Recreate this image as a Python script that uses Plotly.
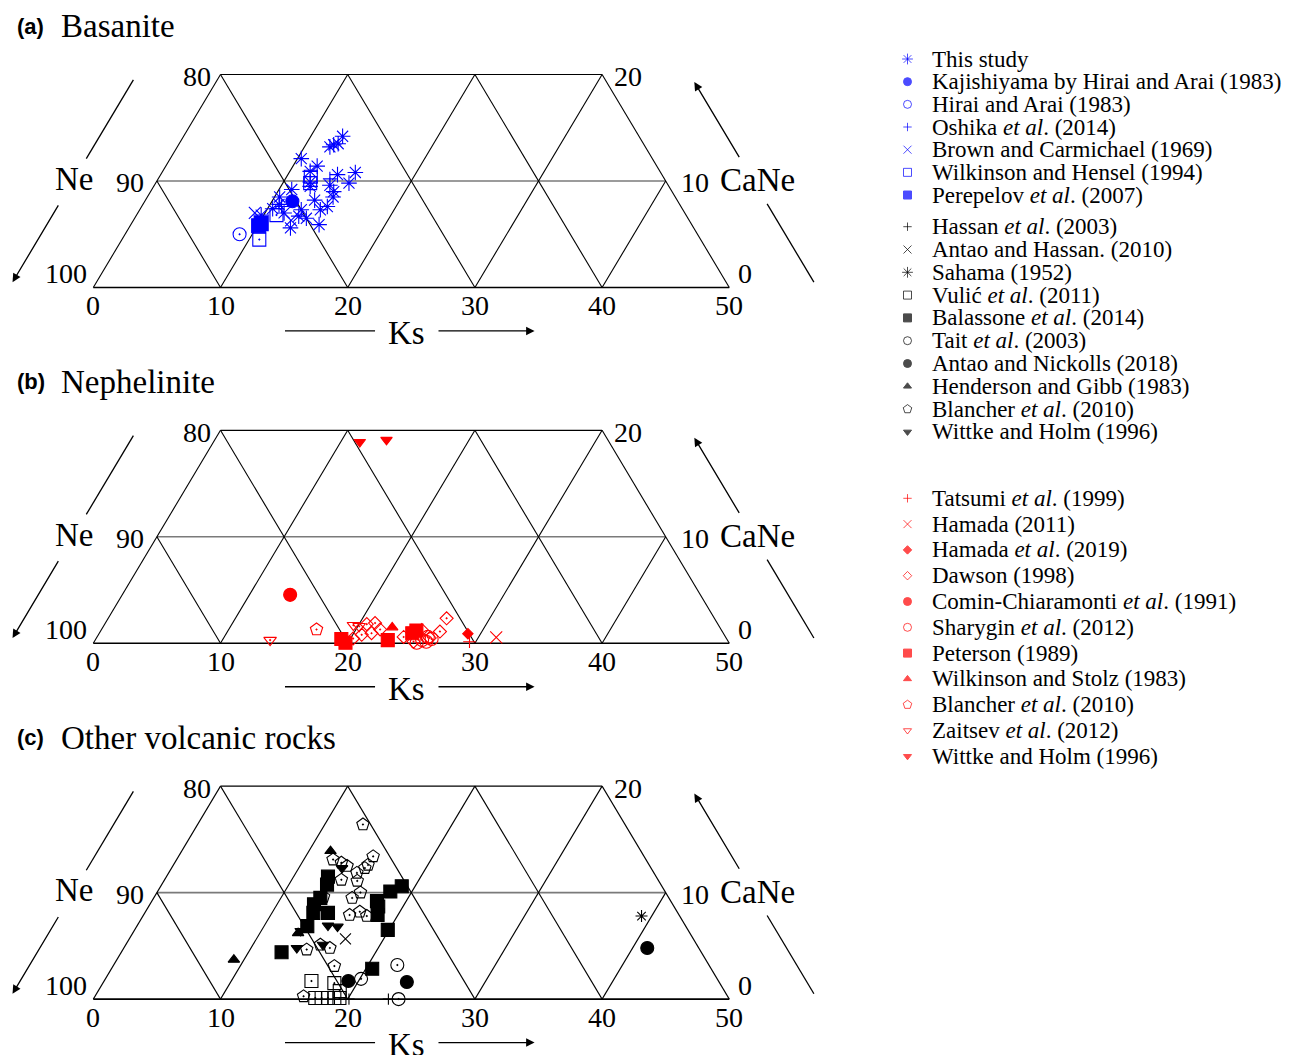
import plotly.graph_objects as go

W, H = 1291, 1055
BLUE, RED, BLACK = "#0000ff", "#ff0000", "#000000"
SERIF = "Liberation Serif"
SANS = "Liberation Sans"

# ---------------- data: ternary coordinates (Ks, CaNe) ----------------
# (a) Basanite
a_this_study_ks = [12.5, 12.2, 12.0, 12.5, 10.3, 11.9, 11.6, 13.9, 15.2, 15.2, 12.1, 12.3, 13.8, 14.4, 11.0,
                   10.4, 13.3, 14.6, 14.2, 12.7, 12.8, 13.5, 14.8, 12.7, 10.4, 10.7, 9.8, 11.5, 14.6]
a_this_study_cane = [14.2, 13.4, 13.2, 13.5, 12.1, 11.4, 10.9, 10.6, 10.8, 9.8, 9.9, 9.5, 9.6, 9.0, 9.2,
                     8.5, 8.2, 7.6, 7.3, 7.3, 6.7, 6.5, 5.9, 5.6, 7.4, 7.8, 6.8, 7.0, 8.5]
a_kajishiyama_ks, a_kajishiyama_cane = [11.6], [8.1]
a_hirai_ks, a_hirai_cane = [9.0], [5.0]
a_oshika_ks, a_oshika_cane = [11.0, 13.5], [7.6, 10.2]
a_brown_ks, a_brown_cane = [9.2, 12.4], [7.0, 6.3]
a_wilkinson_ks, a_wilkinson_cane = [10.8, 11.0, 11.9, 12.15], [4.5, 6.8, 10.4, 9.8]
a_perepelov_ks, a_perepelov_cane = [10.1, 10.2], [5.8, 6.0]

# (b) Nephelinite
b_tatsumi_ks, b_tatsumi_cane = [29.5], [0.15]
b_hamada2011_ks, b_hamada2011_cane = [31.4], [0.55]
b_hamada2019_ks, b_hamada2019_cane = [29.0], [0.9]
b_dawson_ks = [20.6, 21.2, 21.4, 20.7, 25.2, 26.7, 26.6, 24.1, 25.1, 20.2, 21.9, 26.2]
b_dawson_cane = [1.8, 1.9, 0.95, 0.8, 1.25, 1.1, 2.35, 0.6, 0.15, 0.45, 1.3, 0.5]
b_comin_ks, b_comin_cane = [13.2], [4.55]
b_sharygin_ks, b_sharygin_cane = [25.7, 26.1, 26.4, 25.4, 26.0], [0.3, 0.15, 0.4, 0.05, 0.6]
b_peterson_ks, b_peterson_cane = [19.3, 19.8, 23.0, 24.6, 24.8], [0.4, 0.05, 0.3, 0.95, 1.2]
b_wilkstolz_ks, b_wilkstolz_cane = [22.75], [1.5]
b_blancher_ks, b_blancher_cane = [16.9], [1.3]
b_zaitsev_ks, b_zaitsev_cane = [13.75, 19.6, 20.1], [0.3, 1.7, 1.6]
b_wittke_ks, b_wittke_cane = [11.5, 13.5], [18.9, 19.1]

# (c) Other volcanic rocks
c_hassan_ks, c_hassan_cane = [23.2, 20.1], [0.0, 0.0]
c_antaohassan_ks, c_antaohassan_cane = [17.0], [5.65]
c_sahama_ks, c_sahama_cane = [39.2], [7.8]
c_vulic_ks = [16.3, 18.2, 19.0, 17.4, 17.9, 18.4, 18.9, 19.3]
c_vulic_cane = [1.7, 1.5, 0.75, 0.1, 0.1, 0.1, 0.1, 0.1]
c_balassone_ks = [12.7, 13.0, 13.1, 12.9, 18.3, 18.95, 17.7, 13.25, 14.4, 18.05, 18.4, 13.4, 19.9, 12.6, 20.5]
c_balassone_cane = [11.5, 10.75, 9.5, 8.9, 10.1, 10.6, 9.2, 8.1, 8.1, 8.7, 7.9, 6.85, 6.5, 4.4, 2.85]
c_tait_ks, c_tait_cane = [20.1, 22.3, 24.0], [1.9, 3.2, 0.0]
c_antaonick_ks, c_antaonick_cane = [19.2, 23.85, 41.15], [1.7, 1.6, 4.8]
c_henderson_ks, c_henderson_cane = [9.2, 11.7, 13.0], [3.7, 13.9, 6.2]
c_blancher_ks = [13.0, 12.3, 13.1, 13.7, 15.3, 15.3, 15.2, 14.8, 13.9, 15.2, 13.3, 15.6, 16.0,
                 14.45, 15.3, 16.2, 17.4, 16.4, 16.2, 16.85, 17.6]
c_blancher_cane = [16.4, 13.1, 12.8, 12.5, 13.4, 12.6, 12.3, 11.85, 11.2, 11.1, 9.6, 9.5, 10.0,
                   4.65, 5.1, 4.8, 3.1, 0.26, 7.9, 8.2, 7.8]
c_wittke_ks, c_wittke_cane = [13.4, 13.1, 15.0, 15.8, 13.6, 15.5], [12.3, 6.4, 6.9, 6.8, 4.8, 5.1]

# ---------------- axis ticks ----------------
ks_ticks = [0, 10, 20, 30, 40, 50]
ne_ticks = ["80", "90", "100"]
ne_tick_cane = [20, 10, 0]
cane_ticks = ["20", "10", "0"]

panel_titles = [("(a)", "Basanite"), ("(b)", "Nephelinite"), ("(c)", "Other volcanic rocks")]

# series: (panel index, symbol, color, size, ks, cane)
series = [
    (0, "asterisk-open", BLUE, 13, a_this_study_ks, a_this_study_cane),
    (0, "circle", BLUE, 13, a_kajishiyama_ks, a_kajishiyama_cane),
    (0, "circle-open-dot", BLUE, 13, a_hirai_ks, a_hirai_cane),
    (0, "cross-thin-open", BLUE, 10, a_oshika_ks, a_oshika_cane),
    (0, "x-thin-open", BLUE, 12, a_brown_ks, a_brown_cane),
    (0, "square-open-dot", BLUE, 13, a_wilkinson_ks, a_wilkinson_cane),
    (0, "square", BLUE, 14, a_perepelov_ks, a_perepelov_cane),
    (1, "cross-thin-open", RED, 9, b_tatsumi_ks, b_tatsumi_cane),
    (1, "x-thin-open", RED, 12, b_hamada2011_ks, b_hamada2011_cane),
    (1, "diamond", RED, 8, b_hamada2019_ks, b_hamada2019_cane),
    (1, "diamond-open-dot", RED, 10, b_dawson_ks, b_dawson_cane),
    (1, "circle", RED, 13, b_comin_ks, b_comin_cane),
    (1, "circle-open-dot", RED, 13, b_sharygin_ks, b_sharygin_cane),
    (1, "square", RED, 13, b_peterson_ks, b_peterson_cane),
    (1, "triangle-up", RED, 10, b_wilkstolz_ks, b_wilkstolz_cane),
    (1, "pentagon-open-dot", RED, 13, b_blancher_ks, b_blancher_cane),
    (1, "triangle-down-open-dot", RED, 11, b_zaitsev_ks, b_zaitsev_cane),
    (1, "triangle-down", RED, 10, b_wittke_ks, b_wittke_cane),
    (2, "pentagon-open-dot", BLACK, 13, c_blancher_ks, c_blancher_cane),
    (2, "cross-thin-open", BLACK, 8, c_hassan_ks, c_hassan_cane),
    (2, "x-thin-open", BLACK, 11, c_antaohassan_ks, c_antaohassan_cane),
    (2, "asterisk-open", BLACK, 10, c_sahama_ks, c_sahama_cane),
    (2, "square-open-dot", BLACK, 13, c_vulic_ks, c_vulic_cane),
    (2, "square", BLACK, 13, c_balassone_ks, c_balassone_cane),
    (2, "circle-open-dot", BLACK, 13, c_tait_ks, c_tait_cane),
    (2, "circle", BLACK, 13, c_antaonick_ks, c_antaonick_cane),
    (2, "triangle-up", BLACK, 10, c_henderson_ks, c_henderson_cane),
    (2, "triangle-down", BLACK, 10, c_wittke_ks, c_wittke_cane),
]

# legend entries
legend_groups = [
    (BLUE, ["This study", "Kajishiyama by Hirai and Arai (1983)", "Hirai and Arai (1983)",
            "Oshika <i>et al</i>. (2014)", "Brown and Carmichael (1969)", "Wilkinson and Hensel (1994)",
            "Perepelov <i>et al</i>. (2007)"],
     ["asterisk-open", "circle", "circle-open", "cross-thin-open", "x-thin-open", "square-open", "square"]),
    (BLACK, ["Hassan <i>et al</i>. (2003)", "Antao and Hassan. (2010)", "Sahama (1952)",
             "Vulić <i>et al</i>. (2011)", "Balassone <i>et al</i>. (2014)", "Tait <i>et al</i>. (2003)",
             "Antao and Nickolls (2018)", "Henderson and Gibb (1983)", "Blancher <i>et al</i>. (2010)",
             "Wittke and Holm (1996)"],
     ["cross-thin-open", "x-thin-open", "asterisk-open", "square-open", "square", "circle-open", "circle",
      "triangle-up", "pentagon-open", "triangle-down"]),
    (RED, ["Tatsumi <i>et al</i>. (1999)", "Hamada (2011)", "Hamada <i>et al</i>. (2019)", "Dawson (1998)",
           "Comin-Chiaramonti <i>et al</i>. (1991)", "Sharygin <i>et al</i>. (2012)", "Peterson (1989)",
           "Wilkinson and Stolz (1983)", "Blancher <i>et al</i>. (2010)", "Zaitsev <i>et al</i>. (2012)",
           "Wittke and Holm (1996)"],
     ["cross-thin-open", "x-thin-open", "diamond", "diamond-open", "circle", "circle-open", "square",
      "triangle-up", "pentagon-open", "triangle-down-open", "triangle-down"]),
]
legend_sizes = {"asterisk-open": 9, "circle": 8, "circle-open": 8, "cross-thin-open": 6, "x-thin-open": 8,
                "square-open": 8, "square": 8, "triangle-up": 7, "triangle-down": 7, "triangle-down-open": 7,
                "pentagon-open": 9, "diamond": 6.5, "diamond-open": 6.5}

# ---------------- layout geometry (pixels) ----------------
PX0 = 93.3        # pixel x of Ks = 0
SX = 12.72        # px per unit, horizontal
SY = 10.65        # px per unit, vertical (CaNe)
PANEL_STEP = 355.8
BOTTOM0 = 287.5
XR = [-7, 58]
YR = [-5, 21.5]
LEG_START = [59.0, 226.7, 498.3]
LEG_STEP = [22.67, 22.8, 25.8]
LEG_MARK_X = 907.5
LEG_TEXT_X = 929.5


def txy(ks, cane):
    return [k + c / 2 for k, c in zip(ks, cane)], list(cane)


fig = go.Figure()
layout = dict(width=W, height=H, margin=dict(l=0, r=0, t=0, b=0, pad=0),
              paper_bgcolor="white", plot_bgcolor="rgba(0,0,0,0)", showlegend=False)
shapes, annotations = [], []

for p in range(3):
    sfx = "" if p == 0 else str(p + 1)
    bottom = BOTTOM0 + p * PANEL_STEP
    x_dom = [(PX0 + XR[0] * SX) / W, (PX0 + XR[1] * SX) / W]
    y_top_px = bottom - YR[1] * SY
    y_bot_px = bottom - YR[0] * SY
    y_dom = [1 - y_bot_px / H, 1 - y_top_px / H]
    layout["xaxis" + sfx] = dict(domain=x_dom, range=XR, visible=False, fixedrange=True, anchor="y" + sfx)
    layout["yaxis" + sfx] = dict(domain=y_dom, range=YR, visible=False, fixedrange=True, anchor="x" + sfx)
    xr, yr = "x" + sfx, "y" + sfx

    def seg(k1, c1, k2, c2, color="black", width=1.0):
        shapes.append(dict(type="line", xref=xr, yref=yr, x0=k1 + c1 / 2, y0=c1, x1=k2 + c2 / 2, y1=c2,
                           line=dict(color=color, width=width), layer="below"))

    # horizontal lines (CaNe = 0, 10, 20)
    seg(0, 0, 50, 0, "black", 1.6)
    seg(0, 10, 40, 10, "#7a7a7a", 1.6)
    seg(0, 20, 30, 20, "black", 1.2)
    # constant-Ks lines
    for k in [0, 10, 20, 30, 40]:
        seg(k, 0, k, min(20, 50 - k), "black", 1.1)
    # constant Ks+CaNe lines
    for s in [10, 20, 30, 40, 50]:
        cm = min(20, s)
        seg(s, 0, s - cm, cm, "black", 1.1)

    # bottom tick labels
    for k in ks_ticks:
        annotations.append(dict(xref=xr, yref=yr, x=k, y=0, text=str(k), showarrow=False,
                                yshift=-18, xanchor="center", yanchor="middle",
                                font=dict(family=SERIF, size=28, color="black")))
    # left (Ne) labels
    ne_shift = [(-8, -2), (-11, -2), (-4, 14)]
    for lab, c, (dx, dy) in zip(ne_ticks, ne_tick_cane, ne_shift):
        annotations.append(dict(xref=xr, yref=yr, x=c / 2, y=c, text=lab, showarrow=False,
                                xshift=dx, yshift=dy, xanchor="right", yanchor="middle",
                                font=dict(family=SERIF, size=28, color="black")))
    # right (CaNe) labels
    ca_shift = [(10, -2), (13, -2), (7, 14)]
    for lab, c, (dx, dy) in zip(cane_ticks, ne_tick_cane, ca_shift):
        annotations.append(dict(xref=xr, yref=yr, x=50 - c / 2, y=c, text=lab, showarrow=False,
                                xshift=dx, yshift=dy, xanchor="left", yanchor="middle",
                                font=dict(family=SERIF, size=28, color="black")))
    # Ne axis name + arrow
    kN = -6.6
    seg(kN, 12.1, kN, 19.5, "black", 1.3)
    annotations.append(dict(xref=xr, yref=yr, x=kN + 0.25, y=0.5, ax=kN + 3.92, ay=7.85,
                            axref=xr, ayref=yr, text="", showarrow=True, arrowhead=2, arrowsize=1.3,
                            arrowwidth=1.3, arrowcolor="black"))
    annotations.append(dict(xref=xr, yref=yr, x=kN + 5.1, y=10.2, text="Ne", showarrow=False,
                            xanchor="center", yanchor="middle",
                            font=dict(family=SERIF, size=33, color="black")))
    # CaNe axis name + arrow
    sC = 56.9
    seg(sC - 0.5, 0.5, sC - 7.85, 7.85, "black", 1.3)
    annotations.append(dict(xref=xr, yref=yr, x=sC - 9.65, y=19.3, ax=sC - 6.05, ay=12.1,
                            axref=xr, ayref=yr, text="", showarrow=True, arrowhead=2, arrowsize=1.3,
                            arrowwidth=1.3, arrowcolor="black"))
    annotations.append(dict(xref=xr, yref=yr, x=57.3 - 5.05, y=10.1, text="CaNe", showarrow=False,
                            xanchor="center", yanchor="middle",
                            font=dict(family=SERIF, size=33, color="black")))
    # Ks axis name + arrow
    shapes.append(dict(type="line", xref=xr, yref=yr, x0=15.07, y0=-4.08, x1=22.15, y1=-4.08,
                       line=dict(color="black", width=1.3)))
    annotations.append(dict(xref=xr, yref=yr, x=34.69, y=-4.08, ax=27.02, ay=-4.08,
                            axref=xr, ayref=yr, text="", showarrow=True, arrowhead=2, arrowsize=1.3,
                            arrowwidth=1.3, arrowcolor="black"))
    annotations.append(dict(xref=xr, yref=yr, x=24.65, y=-4.27, text="Ks", showarrow=False,
                            xanchor="center", yanchor="middle",
                            font=dict(family=SERIF, size=33, color="black")))
    # panel titles
    tag, title = panel_titles[p]
    ty = 26 + p * PANEL_STEP
    annotations.append(dict(xref="paper", yref="paper", x=15 / W, y=1 - ty / H, text="<b>" + tag + "</b>",
                            showarrow=False, xanchor="left", yanchor="middle",
                            font=dict(family=SANS, size=22, color="black")))
    annotations.append(dict(xref="paper", yref="paper", x=59 / W, y=1 - ty / H, text=title,
                            showarrow=False, xanchor="left", yanchor="middle",
                            font=dict(family=SERIF, size=33, color="black")))

# data traces
for p, sym, col, size, ks, cane in series:
    sfx = "" if p == 0 else str(p + 1)
    x, y = txy(ks, cane)
    fig.add_trace(go.Scatter(x=x, y=y, mode="markers", xaxis="x" + sfx, yaxis="y" + sfx,
                             marker=dict(symbol=sym, size=size, color=col, line=dict(color=col, width=1.1)),
                             hoverinfo="skip", showlegend=False, cliponaxis=False))

# manual legend (own axis in pixel units)
layout["xaxis4"] = dict(domain=[860 / W, 1], range=[860, W], visible=False, anchor="y4", fixedrange=True)
layout["yaxis4"] = dict(domain=[0, 1], range=[H, 0], visible=False, anchor="x4", fixedrange=True)
lx, ly, lsym, lcol, lsize = [], [], [], [], []
for gi, (col, names, syms) in enumerate(legend_groups):
    for i, (nm, sy) in enumerate(zip(names, syms)):
        yy = LEG_START[gi] + i * LEG_STEP[gi]
        lx.append(LEG_MARK_X)
        ly.append(yy)
        lsym.append(sy)
        lcol.append(col)
        lsize.append(legend_sizes[sy])
        annotations.append(dict(xref="x4", yref="y4", x=LEG_TEXT_X, y=yy, text=nm, showarrow=False,
                                xanchor="left", yanchor="middle",
                                font=dict(family=SERIF, size=23, color="black")))
fig.add_trace(go.Scatter(x=lx, y=ly, mode="markers", xaxis="x4", yaxis="y4",
                         marker=dict(symbol=lsym, size=lsize, color=lcol, line=dict(color=lcol, width=1)),
                         hoverinfo="skip", showlegend=False))

layout["shapes"] = shapes
layout["annotations"] = annotations
fig.update_layout(**layout)

fig.write_html("out.html", config={"displayModeBar": False},
               post_script="document.body.style.margin='0px';")
